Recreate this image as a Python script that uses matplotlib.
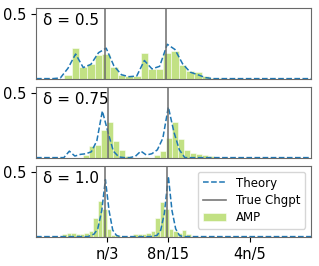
import numpy as np
import matplotlib
matplotlib.use("Agg")
from matplotlib import pyplot as plt

# x in units of n
deltas = ["0.5", "0.75", "1.0"]
chgpts = [[0.327, 0.526], [0.334, 0.532], [0.327, 0.527]]

# AMP histogram: first bin left edge, bin width, heights
amp_start = [0.192, 0.2535, 0.186]
amp_width = [0.025, 0.0195, 0.0145]
amp_h = [
    [0.03, 0.24, 0.09, 0.11, 0.185, 0.19, 0.09, 0.03, 0.02, 0.02, 0.20,
     0.078, 0.075, 0.20, 0.215, 0.108, 0.058, 0.048, 0.018, 0.005, 0.003],
    [0.02, 0.09, 0.10, 0.21, 0.275, 0.13, 0.06, 0.01, 0.0, 0.0, 0.005,
     0.0, 0.02, 0.05, 0.15, 0.275, 0.14, 0.06, 0.035, 0.03, 0.02, 0.015],
    [0.02, 0.025, 0.025, 0.02, 0.02, 0.03, 0.045, 0.14, 0.276, 0.21, 0.06,
     0.01, 0.015, 0.0, 0.0, 0.005, 0.02, 0.02, 0.02, 0.03, 0.045, 0.14,
     0.265, 0.21, 0.06, 0.045, 0.025, 0.05, 0.02],
]

# Theory curve
th_x = [
    [0.1, 0.1545, 0.1795, 0.2045, 0.2295, 0.2545, 0.2795, 0.3045, 0.3295,
     0.3545, 0.3795, 0.4045, 0.4295, 0.4545, 0.4795, 0.5045, 0.5295, 0.5545,
     0.5795, 0.6045, 0.6295, 0.6545, 0.6795, 1.0],
    [0.1, 0.191, 0.209, 0.227, 0.245, 0.263, 0.281, 0.299, 0.317, 0.335,
     0.353, 0.371, 0.389, 0.407, 0.425, 0.443, 0.461, 0.479, 0.497, 0.515,
     0.533, 0.551, 0.569, 0.587, 1.0],
    [0.1, 0.27, 0.29, 0.302, 0.315, 0.327, 0.339, 0.351, 0.363, 0.375, 0.475,
     0.496, 0.508, 0.52, 0.533, 0.545, 0.557, 0.569, 0.58, 1.0],
]
th_y = [
    [0, 0, 0.005, 0.08, 0.19, 0.085, 0.11, 0.2, 0.235, 0.1, 0.03, 0.015, 0.02,
     0.14, 0.075, 0.095, 0.265, 0.225, 0.115, 0.05, 0.03, 0.008, 0, 0],
    [0, 0, 0.05, 0.012, 0.025, 0.03, 0.045, 0.13, 0.36, 0.2, 0.05, 0.005, 0,
     0, 0.01, 0.05, 0.02, 0.03, 0.06, 0.15, 0.39, 0.2, 0.06, 0, 0],
    [0, 0, 0.02, 0.06, 0.2, 0.44, 0.2, 0.05, 0.01, 0, 0, 0.01, 0.05, 0.18,
     0.465, 0.2, 0.06, 0.01, 0, 0],
]

xticks = [1 / 3, 8 / 15, 4 / 5]
xticklabels = ["n/3", "8n/15", "4n/5"]

fig, axes = plt.subplots(3, 1, figsize=(3.19, 2.66), dpi=100, sharex=True)
fig.subplots_adjust(left=0.113, right=0.975, top=0.97, bottom=0.109, hspace=0.112)

for i, ax in enumerate(axes):
    h = np.array(amp_h[i])
    edges = amp_start[i] + amp_width[i] * np.arange(len(h))
    ax.bar(edges, h, width=amp_width[i], align="edge", color="yellowgreen",
           alpha=0.6, edgecolor="white", linewidth=0.6, label="AMP")
    ax.plot(th_x[i], th_y[i], "--", color="tab:blue", lw=1.1, label="Theory")
    for j, c in enumerate(chgpts[i]):
        ax.axvline(c, color="dimgray", lw=1.2, alpha=0.9,
                   label="True Chgpt" if j == 0 else None)
    ax.set_xlim(0.1, 1.0)
    ax.set_ylim(-0.003, 0.545)
    ax.set_yticks([0.5])
    ax.set_yticklabels(["0.5"], fontsize=10.5)
    ax.text(0.025, 0.93, "δ = " + deltas[i], transform=ax.transAxes,
            fontsize=11, va="top", ha="left")
    for s in ax.spines.values():
        s.set_color("dimgray")

axes[-1].set_xticks(xticks)
axes[-1].set_xticklabels(xticklabels, fontsize=10.5)
for ax in axes[:-1]:
    ax.tick_params(axis="x", length=0)

hnd, lab = axes[-1].get_legend_handles_labels()
order = [lab.index("Theory"), lab.index("True Chgpt"), lab.index("AMP")]
axes[-1].legend([hnd[k] for k in order], [lab[k] for k in order],
                loc="upper right", fontsize=8.5, handlelength=2.0,
                borderpad=0.4, labelspacing=0.35)

fig.savefig("out.png", dpi=100)
